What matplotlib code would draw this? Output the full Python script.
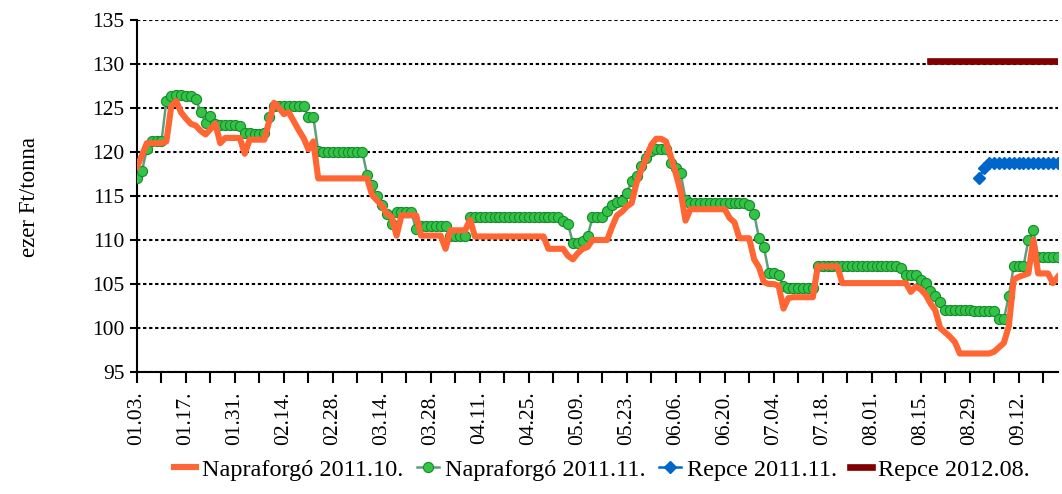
import matplotlib.pyplot as plt
import numpy as np

plt.rcParams['font.family'] = ['Liberation Serif', 'DejaVu Serif']

# trading days 2011.01.03 - 2011.09.22, one value per day (index 0..188)
napraforgo_10 = [
    118.3, 119.6, 121.0, 121.0, 121.0, 121.0, 121.2, 125.2, 125.8, 124.5,   # 0
    123.8, 123.2, 123.0, 122.4, 122.0, 122.6, 123.2, 121.0, 121.6, 121.6,   # 10
    121.6, 121.6, 119.8, 121.4, 121.4, 121.4, 121.4, 123.5, 125.6, 125.0,   # 20
    124.3, 124.5, 123.5, 122.5, 121.6, 120.3, 121.2, 117.0, 117.0, 117.0,   # 30
    117.0, 117.0, 117.0, 117.0, 117.0, 117.0, 117.0, 117.0, 115.1, 114.5,   # 40
    113.9, 113.0, 112.6, 110.5, 112.8, 112.8, 112.8, 112.8, 110.5, 110.5,   # 50
    110.5, 110.5, 110.5, 109.0, 111.1, 111.1, 111.1, 111.1, 112.3, 110.4,   # 60
    110.4, 110.4, 110.4, 110.4, 110.4, 110.4, 110.4, 110.4, 110.4, 110.4,   # 70
    110.4, 110.4, 110.4, 110.4, 109.0, 109.0, 109.0, 109.0, 108.2, 107.8,   # 80
    108.5, 109.0, 109.2, 110.0, 110.0, 110.0, 110.0, 111.5, 112.8, 113.2,   # 90
    113.8, 114.2, 116.5, 118.0, 119.3, 120.8, 121.5, 121.5, 121.2, 119.5,   # 100
    117.6, 115.5, 112.2, 113.5, 113.5, 113.5, 113.5, 113.5, 113.5, 113.5,   # 110
    113.5, 112.5, 112.0, 110.2, 110.2, 110.2, 107.8, 106.9, 105.2, 105.0,   # 120
    105.0, 104.8, 102.2, 103.4, 103.5, 103.5, 103.5, 103.5, 103.5, 107.0,   # 130
    107.0, 107.0, 107.0, 107.0, 105.1, 105.1, 105.1, 105.1, 105.1, 105.1,   # 140
    105.1, 105.1, 105.1, 105.1, 105.1, 105.1, 105.1, 105.1, 104.1, 104.7,   # 150
    104.4, 103.8, 102.8, 102.0, 100.0, 99.5, 99.0, 98.4, 97.1, 97.1,        # 160
    97.1, 97.1, 97.1, 97.1, 97.1, 97.3, 97.8, 98.3, 100.2, 105.5,           # 170
    105.8, 106.0, 106.2, 110.0, 106.2, 106.2, 106.2, 105.1, 105.8,          # 180
]

napraforgo_11 = [
    117.0, 117.8, 120.3, 121.2, 121.2, 121.2, 125.8, 126.4, 126.5, 126.5,   # 0
    126.4, 126.4, 126.0, 124.6, 123.3, 124.1, 123.2, 123.1, 123.1, 123.1,   # 10
    123.1, 123.0, 122.2, 122.2, 122.0, 122.0, 122.2, 124.0, 125.2, 125.2,   # 20
    125.2, 125.2, 125.2, 125.2, 125.2, 124.0, 124.0, 120.1, 120.0, 120.0,   # 30
    120.0, 120.0, 120.0, 120.0, 120.0, 120.0, 120.0, 117.4, 116.2, 115.0,   # 40
    114.0, 113.0, 111.8, 113.2, 113.2, 113.2, 113.2, 111.2, 111.6, 111.6,   # 50
    111.6, 111.6, 111.6, 111.6, 110.5, 110.5, 110.5, 110.5, 112.6, 112.6,   # 60
    112.6, 112.6, 112.6, 112.6, 112.6, 112.6, 112.6, 112.6, 112.6, 112.6,   # 70
    112.6, 112.6, 112.6, 112.6, 112.6, 112.6, 112.6, 112.2, 111.8, 109.7,   # 80
    109.7, 109.9, 110.4, 112.6, 112.6, 112.6, 113.3, 114.0, 114.3, 114.4,   # 90
    115.3, 116.7, 117.3, 118.4, 119.3, 120.1, 120.3, 120.3, 120.3, 118.8,   # 100
    118.2, 117.6, 114.6, 114.2, 114.2, 114.2, 114.2, 114.2, 114.2, 114.2,   # 110
    114.2, 114.2, 114.2, 114.2, 114.2, 114.0, 113.0, 110.2, 109.2, 106.3,   # 120
    106.2, 106.0, 104.8, 104.6, 104.6, 104.6, 104.6, 104.6, 104.6, 107.1,   # 130
    107.0, 107.0, 107.0, 107.0, 107.0, 107.0, 107.0, 107.0, 107.0, 107.0,   # 140
    107.0, 107.0, 107.0, 107.0, 107.0, 107.0, 106.8, 106.0, 106.0, 106.0,   # 150
    105.5, 105.1, 104.2, 103.6, 103.0, 102.0, 102.0, 102.0, 102.0, 102.0,   # 160
    102.0, 101.9, 101.9, 101.9, 101.9, 101.9, 101.0, 101.0, 103.6, 107.0,   # 170
    107.0, 107.0, 110.0, 111.1, 108.1, 108.1, 108.1, 108.1, 108.1,          # 180
]

repce_11_start = 172
repce_11 = [117.1, 118.2, 118.8, 118.8, 118.8, 118.8, 118.8, 118.8, 118.8,
            118.8, 118.8, 118.8, 118.8, 118.8, 118.8, 118.8, 118.8]

repce_12_start = 162
repce_12 = [130.3] * 27

tick_labels = ['01.03.', '01.17.', '01.31.', '02.14.', '02.28.', '03.14.',
               '03.28.', '04.11.', '04.25.', '05.09.', '05.23.', '06.06.',
               '06.20.', '07.04.', '07.18.', '08.01.', '08.15.', '08.29.',
               '09.12.']

x = np.arange(len(napraforgo_10))
x_r11 = np.arange(repce_11_start, repce_11_start + len(repce_11))
x_r12 = np.arange(repce_12_start, repce_12_start + len(repce_12))

fig = plt.figure(figsize=(10.62, 4.94), dpi=100)
ax = fig.add_axes([0.129, 0.247, 0.867, 0.7125])

ax.plot(x, napraforgo_11, color='#5f9e7c', lw=1.8, marker='o', ms=7.3,
        mfc='#33c447', mec='#17892b', mew=0.8, zorder=3,
        label='Napraforgó 2011.11.')
ax.plot(x, napraforgo_10, color='#ff6633', lw=4.4, zorder=4,
        solid_joinstyle='round', label='Napraforgó 2011.10.')
ax.plot(x_r11, repce_11, color='#0066cc', lw=1.8, marker='D', ms=6.3,
        mfc='#0066cc', mec='#0066cc', zorder=5, label='Repce 2011.11.')
ax.plot(x_r12, repce_12, color='#800000', lw=4.8, zorder=5,
        label='Repce 2012.08.')

ax.set_xlim(0, 188)
ax.set_ylim(95, 135)
ax.set_yticks(np.arange(95, 136, 5))
ax.set_xticks(np.arange(0, 181, 10))
ax.set_xticks(np.arange(5, 189, 10), minor=True)
ax.set_xticklabels(tick_labels, rotation=90)

ax.yaxis.grid(True, color='black', linestyle=(0, (1.6, 1.3)), lw=1.5)
ax.set_axisbelow(True)
for s in ['top', 'right']:
    ax.spines[s].set_visible(False)
for s in ['left', 'bottom']:
    ax.spines[s].set_linewidth(1.5)

ax.tick_params(axis='y', labelsize=15.5, length=5, width=1.5, pad=4)
ax.tick_params(axis='x', which='both', length=8, width=1.5, pad=6)
ax.tick_params(axis='x', labelsize=15.5)

fig.text(0.028, 0.601, 'ezer Ft/tonna', rotation=90, va='center',
         ha='center', fontsize=16.5)

h, l = ax.get_legend_handles_labels()
order = [1, 0, 2, 3]
ax.legend([h[i] for i in order], [l[i] for i in order], loc='center',
          bbox_to_anchor=(0.567, 0.049), bbox_transform=fig.transFigure,
          ncol=4, frameon=False, fontsize=17.5, handlelength=0.9,
          handletextpad=0.25, columnspacing=0.55, numpoints=1)

fig.savefig('out.png', dpi=100)
